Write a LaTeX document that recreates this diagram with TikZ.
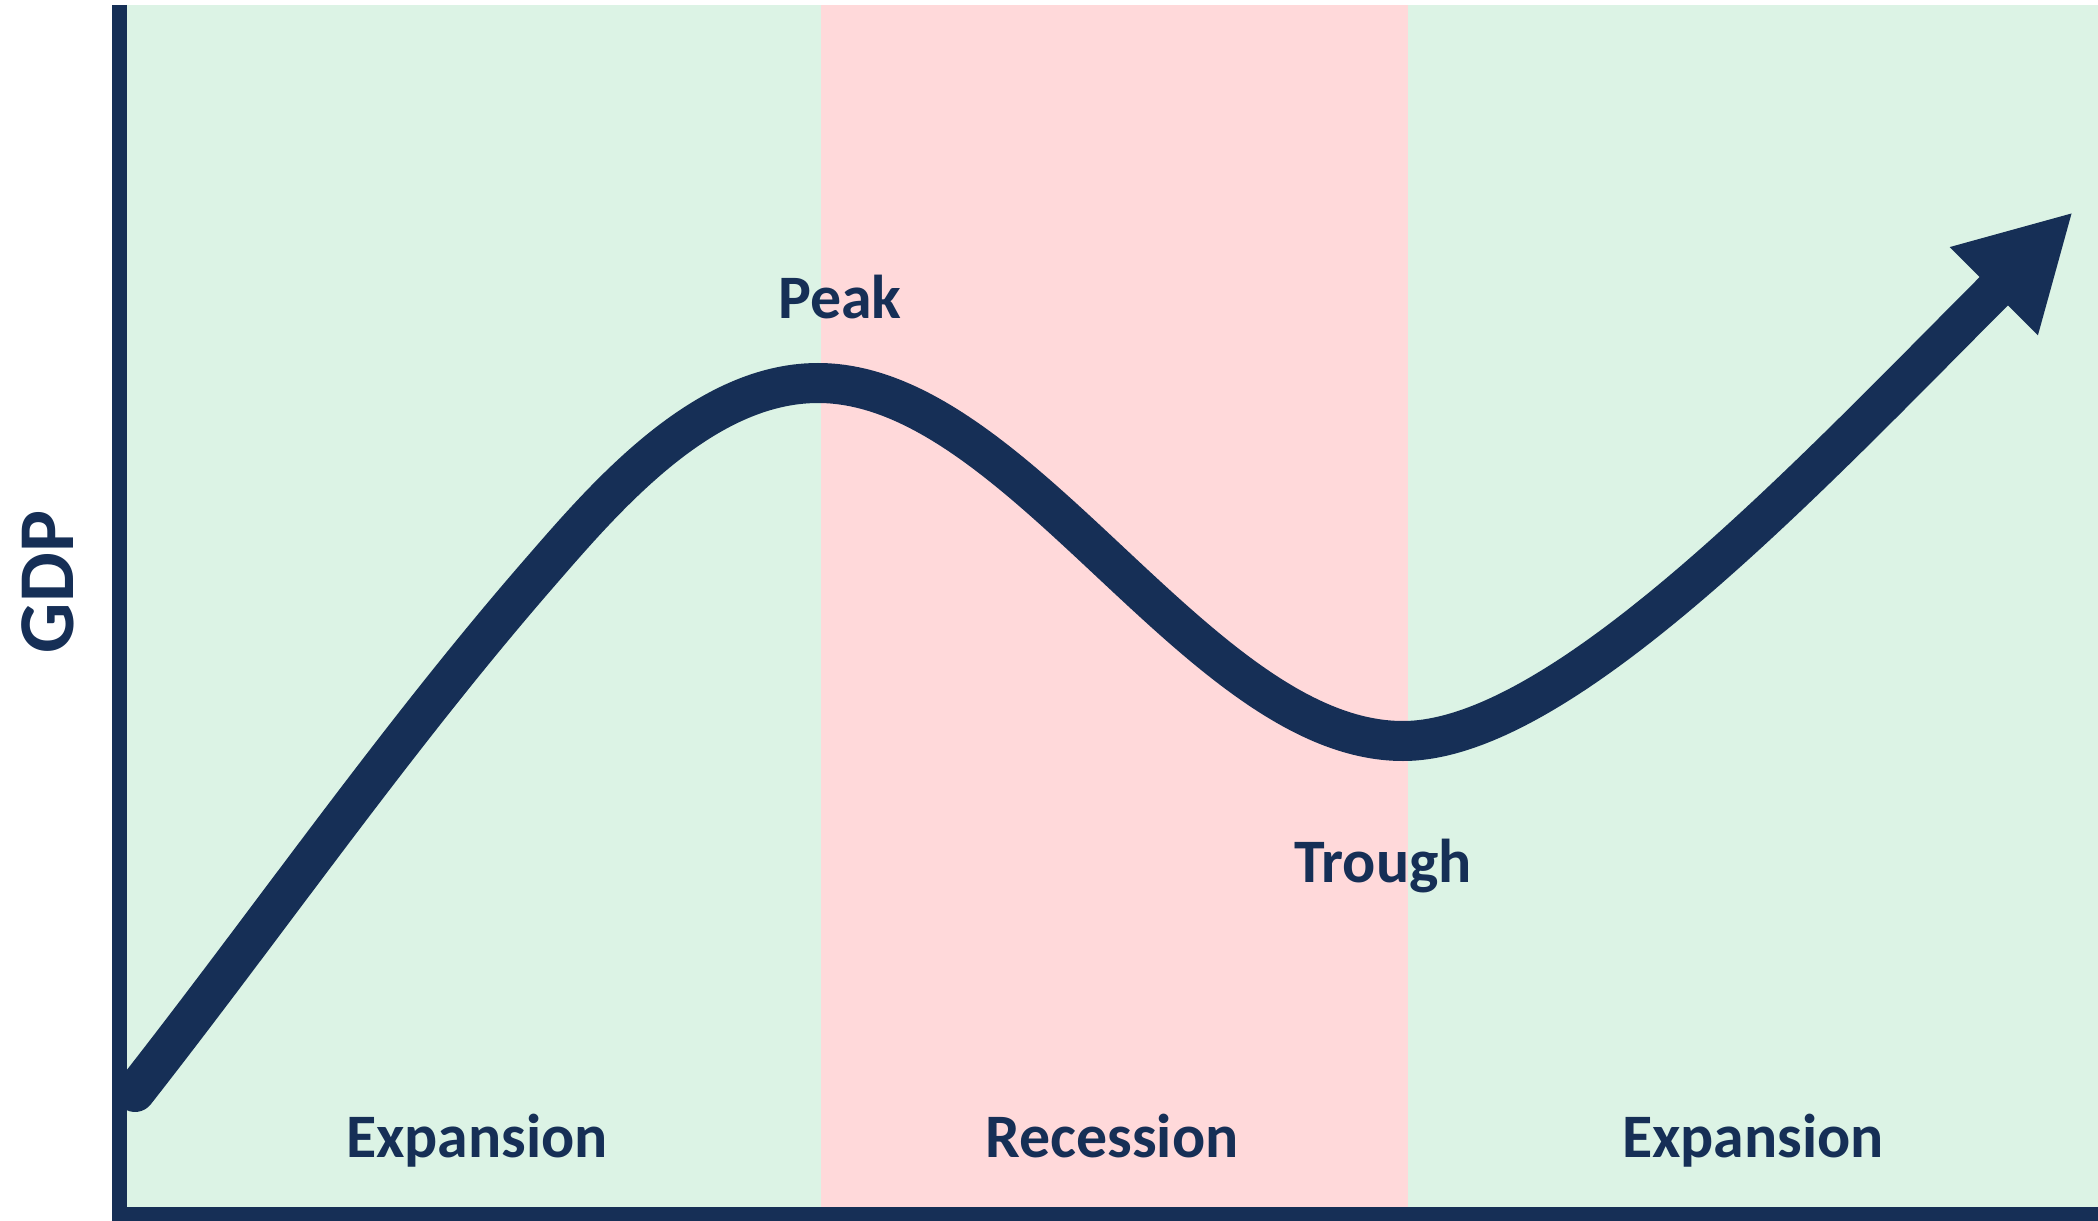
\documentclass[tikz,border=0pt]{standalone}
\usepackage{fontspec}
\setmainfont{Carlito}
\usetikzlibrary{arrows.meta}
\definecolor{navy}{RGB}{22,47,86}
\definecolor{upgreen}{RGB}{220,243,229}
\definecolor{downpink}{RGB}{255,217,218}
\begin{document}
\begin{tikzpicture}[
		phase/.style={font=\bfseries\fontsize{17.6}{20}\selectfont,text=navy,anchor=base,inner sep=0pt},
		gdpcurve/.style={draw=navy,line width=0.4cm,line cap=round,-{Triangle[length=1.12cm,width=1.16cm]}}]
				\useasboundingbox (0,0) rectangle (20.98,12.20);
				\fill[upgreen] (1.27,0.12) rectangle (8.21,12.15);
				\fill[downpink] (8.21,0.12) rectangle (14.08,12.15);
				\fill[upgreen] (14.08,0.12) rectangle (20.98,12.15);
				\coordinate (start) at (1.35,1.28);
				\coordinate (rise) at (5.35,6.42);
				\coordinate (peak) at (8.18,8.37);
				\coordinate (trough) at (14.03,4.79);
				\coordinate (tip) at (20.73,10.08);
				\draw[gdpcurve] (start) .. controls (2.69,2.99) and (3.93,4.78) .. (rise)
					.. controls (6.006,7.175) and (7.0,8.37) .. (peak)
					.. controls (10.2,8.37) and (12.0,4.79) .. (trough)
					.. controls (15.63,4.79) and (18.13,7.48) .. (tip);
				\draw[navy,line width=0.15cm] (1.195,12.15) |- (20.98,0.06);
				\node[phase] (peaklbl) at (8.40,9.02){Peak};
				\node[phase] (troughlbl) at (13.83,3.38){Trough};
				\node[phase] (exp1) at (4.77,0.63){Expansion};
				\node[phase] (rec) at (11.12,0.63){Recession};
				\node[phase] (exp2) at (17.53,0.63){Expansion};
				\node[phase,font=\bfseries\fontsize{22.5}{26}\selectfont,rotate=90] (gdp) at (0.73,6.38){GDP};
			\end{tikzpicture}
\end{document}
